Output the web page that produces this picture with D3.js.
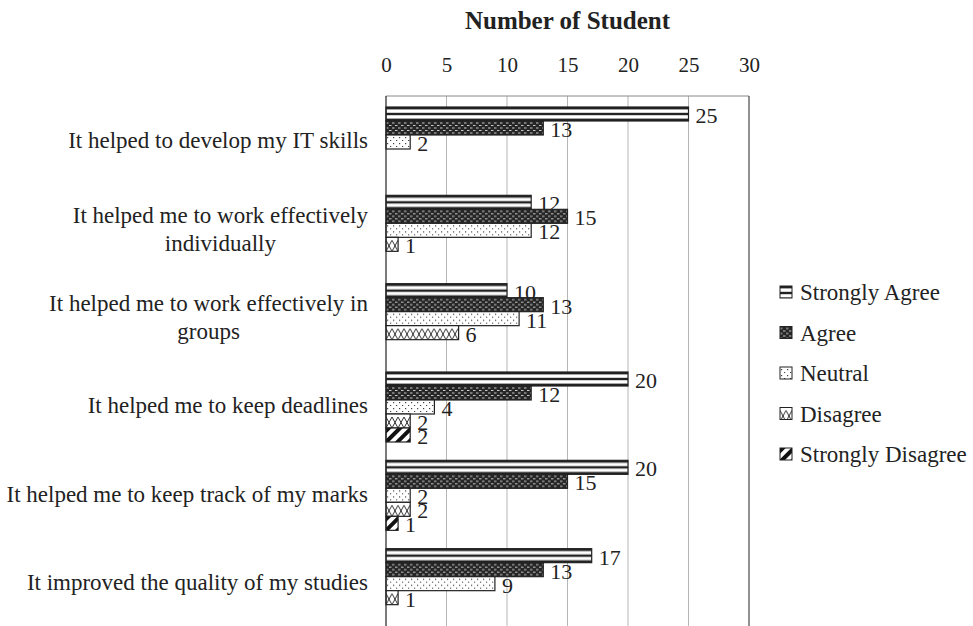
<!DOCTYPE html>
<html>
<head>
<meta charset="utf-8">
<script src="https://cdn.jsdelivr.net/npm/d3@7"></script>
<style>
  body { margin: 0; background: #fff; }
</style>
</head>
<body>
<svg id="chart" width="973" height="626"></svg>
<script>
// data
const categories = [
    ["It helped to develop my IT skills"],
    ["It helped me to work effectively", "individually"],
    ["It helped me to work effectively in", "groups"],
    ["It helped me to keep deadlines"],
    ["It helped me to keep track of my marks"],
    ["It improved the quality of my studies"]
]
const seriesNames = ["Strongly Agree", "Agree", "Neutral", "Disagree", "Strongly Disagree"]
const stronglyAgree = [25, 12, 10, 20, 20, 17]
const agree = [13, 15, 13, 12, 15, 13]
const neutral = [2, 12, 11, 4, 2, 9]
const disagree = [null, 1, 6, 2, 2, 1]
const stronglyDisagree = [null, null, null, 2, 1, null]
const xTicks = [0, 5, 10, 15, 20, 25, 30]

const seriesValues = [stronglyAgree, agree, neutral, disagree, stronglyDisagree]
const patternIds = ["p-sa", "p-a", "p-n", "p-d", "p-sd"]

const serif = "'Liberation Serif', 'Times New Roman', Times, 'DejaVu Serif', serif"
const ink = "#222"

let svg = d3.select("#chart").attr("font-family", serif)

// ---- patterns (user space = each bar's own group, so they line up with the bar top)
let defs = svg.append("defs")
let barH = 14

let pSA = defs.append("pattern").attr("id", "p-sa").attr("patternUnits", "userSpaceOnUse")
    .attr("width", 8).attr("height", barH)
pSA.append("rect").attr("width", 8).attr("height", barH).attr("fill", "#fff")
pSA.append("rect").attr("y", 0).attr("width", 8).attr("height", 2.4).attr("fill", ink)
pSA.append("rect").attr("y", barH / 2 - 1.2).attr("width", 8).attr("height", 2.4).attr("fill", ink)
pSA.append("rect").attr("y", barH - 2.4).attr("width", 8).attr("height", 2.4).attr("fill", ink)

let pA = defs.append("pattern").attr("id", "p-a").attr("patternUnits", "userSpaceOnUse")
    .attr("width", 6).attr("height", 5)
pA.append("rect").attr("width", 6).attr("height", 5).attr("fill", "#262626")
pA.append("rect").attr("x", 0).attr("y", 1.5).attr("width", 2.5).attr("height", 1).attr("fill", "#c8c8c8")
pA.append("rect").attr("x", 3).attr("y", 4).attr("width", 2.5).attr("height", 1).attr("fill", "#c8c8c8")

let pN = defs.append("pattern").attr("id", "p-n").attr("patternUnits", "userSpaceOnUse")
    .attr("width", 6).attr("height", 6)
pN.append("rect").attr("width", 6).attr("height", 6).attr("fill", "#fff")
pN.append("rect").attr("x", 1).attr("y", 2).attr("width", 1.2).attr("height", 1.2).attr("fill", "#444")
pN.append("rect").attr("x", 4).attr("y", 5).attr("width", 1.2).attr("height", 1.2).attr("fill", "#444")

let pD = defs.append("pattern").attr("id", "p-d").attr("patternUnits", "userSpaceOnUse")
    .attr("width", 12).attr("height", barH)
pD.append("rect").attr("width", 12).attr("height", barH).attr("fill", "#fff")
pD.append("path").attr("d", `M0,${barH} L6,3 L12,${barH} M0,3 L6,${barH} L12,3`)
    .attr("stroke", "#333").attr("stroke-width", 1).attr("fill", "none")

let pSD = defs.append("pattern").attr("id", "p-sd").attr("patternUnits", "userSpaceOnUse")
    .attr("width", 8).attr("height", 8).attr("patternTransform", "rotate(45)")
pSD.append("rect").attr("width", 8).attr("height", 8).attr("fill", "#fff")
pSD.append("rect").attr("width", 4).attr("height", 8).attr("fill", "#111")

// ---- scales
let margin = {top: 96, left: 386}
let plotBottom = 626

let x = d3.scaleLinear().domain([0, 30]).range([margin.left, 749])
let y0 = d3.scaleBand().domain(d3.range(categories.length)).range([margin.top, plotBottom])
let y1 = d3.scaleBand().domain(d3.range(seriesNames.length))
    .range([11, 11 + barH * seriesNames.length])

// gridlines
svg.append("g").selectAll("line").data(xTicks.slice(1, -1)).join("line")
    .attr("x1", d => x(d)).attr("x2", d => x(d))
    .attr("y1", margin.top).attr("y2", 626)
    .attr("stroke", "#b5b5b5").attr("stroke-width", 1)

// frame
svg.append("line").attr("x1", x(0)).attr("x2", x(30)).attr("y1", margin.top).attr("y2", margin.top)
    .attr("stroke", "#888")
svg.append("line").attr("x1", x(30)).attr("x2", x(30)).attr("y1", margin.top).attr("y2", 626)
    .attr("stroke", ink)

// top axis labels
let xAxis = svg.append("g").attr("transform", `translate(0, 72)`)
    .call(d3.axisTop(x).tickValues(xTicks).tickSize(0).tickPadding(0))
xAxis.attr("font-family", serif).attr("font-size", 21)
xAxis.select(".domain").remove()
xAxis.selectAll("text").attr("fill", ink)

svg.append("text").attr("x", (x(0) + x(30)) / 2).attr("y", 29)
    .attr("text-anchor", "middle").attr("font-size", 25).attr("font-weight", "bold")
    .attr("fill", ink)
    .text("Number of Student")

// bars
seriesValues.forEach(function(vals, s) {
    let data = vals.map((v, i) => ({v: v, i: i})).filter(d => d.v !== null)
    let bars = svg.append("g").selectAll("g").data(data).join("g")
        .attr("transform", d => `translate(${x(0)}, ${y0(d.i) + y1(s)})`)
    bars.append("rect")
        .attr("width", d => x(d.v) - x(0))
        .attr("height", y1.bandwidth())
        .attr("fill", `url(#${patternIds[s]})`)
        .attr("stroke", ink).attr("stroke-width", 1.2)
    bars.append("text")
        .attr("x", d => x(d.v) - x(0) + 7)
        .attr("y", y1.bandwidth() / 2 + 9)
        .attr("font-size", 22)
        .attr("fill", ink)
        .text(d => d.v)
})

// left axis line
svg.append("line").attr("x1", x(0)).attr("x2", x(0)).attr("y1", margin.top).attr("y2", 626)
    .attr("stroke", ink).attr("stroke-width", 1.2)

// category labels: block right-aligned, lines centred within it
categories.forEach(function(lines, i) {
    let cy = y0(i) + y0.bandwidth() / 2
    let lh = 28
    let t = svg.append("text").attr("font-size", 23).attr("text-anchor", "middle").attr("fill", ink)
    lines.forEach(function(line, j) {
        t.append("tspan").attr("x", 0)
            .attr("y", cy - (lines.length - 1) * lh / 2 + j * lh + 8).text(line)
    })
    let w = d3.max(t.selectAll("tspan").nodes(), n => n.getComputedTextLength())
    t.selectAll("tspan").attr("x", 368 - w / 2)
})

// legend
seriesNames.forEach(function(name, s) {
    let ly = 292 + s * 40.5
    let item = svg.append("g").attr("transform", `translate(780, ${ly - 6})`)
    item.append("rect").attr("width", 12).attr("height", 12)
        .attr("fill", `url(#${patternIds[s]})`).attr("stroke", ink)
    item.append("text").attr("x", 20).attr("y", 14).attr("font-size", 23).attr("fill", ink).text(name)
})
</script>
</body>
</html>
